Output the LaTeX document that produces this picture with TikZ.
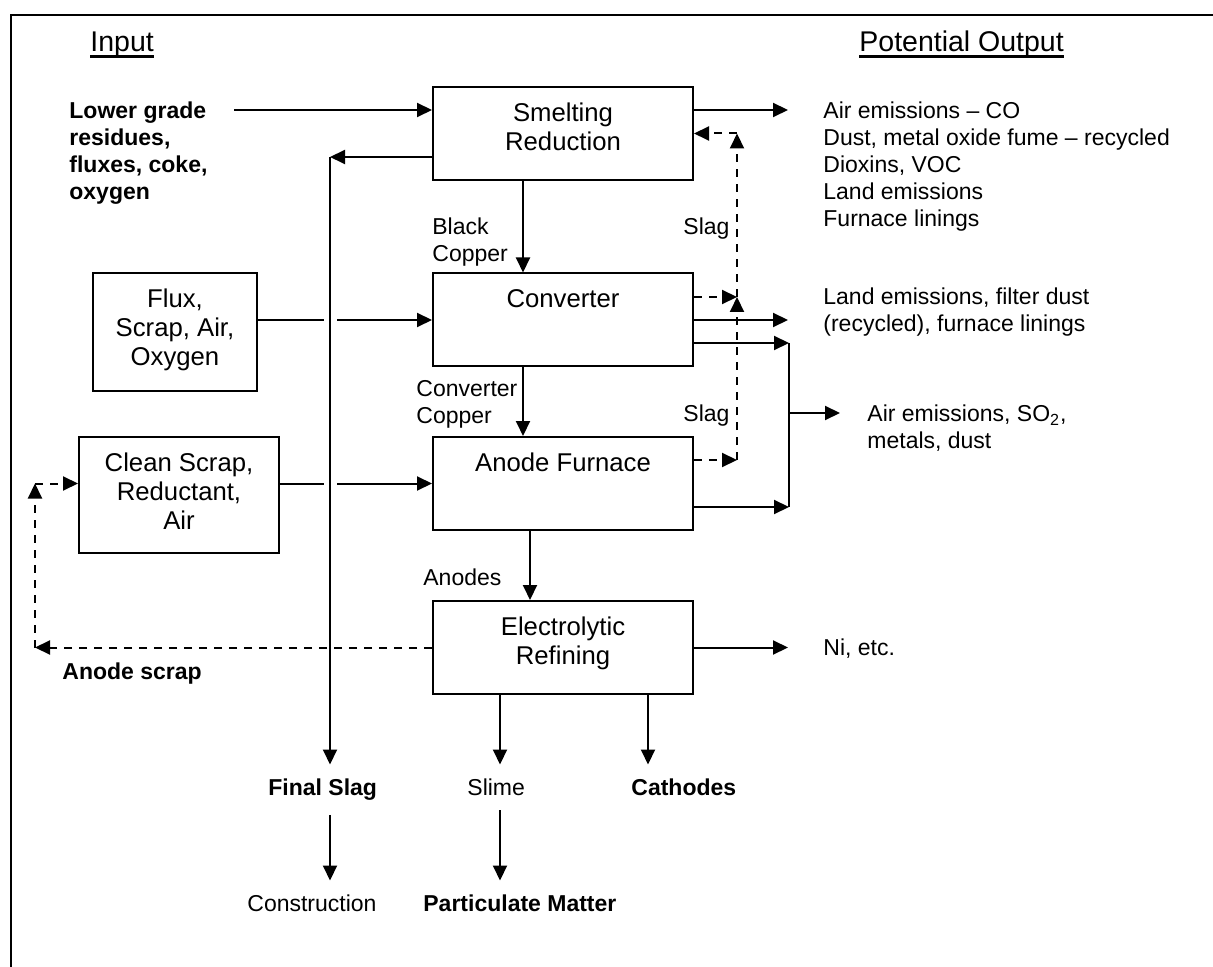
\documentclass[tikz,border=0pt]{standalone}
\usepackage{fontspec}
\setmainfont{Liberation Sans}
\usetikzlibrary{arrows.meta}

\tikzset{
	box/.style = {draw, line width = 1pt, inner sep = 0pt, minimum width = 130pt, minimum height = 46.5pt},
	boxtext/.style = {anchor = north, inner sep = 0pt, align = center, font = \fontsize{12.85}{14.5}\selectfont},
	lbl/.style = {anchor = north west, inner xsep = 0pt, inner ysep = 7pt, align = left, font = \fontsize{11.5}{13.5}\selectfont},
	boldlbl/.style = {lbl, font = \fontsize{11.5}{13.5}\selectfont\bfseries},
	heading/.style = {anchor = base west, inner sep = 0pt, font = \fontsize{14.25}{17}\selectfont},
	flow/.style = {line width = 1pt, -{Triangle[length = 7.5pt, width = 7pt]}},
	link/.style = {line width = 1pt},
	back/.style = {line width = 1pt, dash pattern = on 4pt off 3.5pt, -{Triangle[length = 7.5pt, width = 7pt]}}
}

\begin{document}
\begin{tikzpicture}[x = 0.5pt, y = -0.5pt]
	\def\slagX{330};
	\def\recX{737};
	\def\airX{789};
	\def\outX{788};
	\def\scrapX{35};

	\useasboundingbox (0,0) rectangle (1213,967);
	\draw [line width = 1.2pt] (1213,15) -- (11,15) -- (11,967);

	\begin{scope}
		\node [heading] (inhead) at (90,52) {Input};
		\node [heading] (outhead) at (859,52) {Potential Output};
		\draw [line width = 1.25pt] ([yshift = -2.25pt]inhead.base west) -- ([yshift = -2.25pt]inhead.base east);
		\draw [line width = 1.25pt] ([yshift = -2.25pt]outhead.base west) -- ([yshift = -2.25pt]outhead.base east);
	\end{scope}

	\begin{scope}
		\node [box] (smelt) at (563,133.5) {};
		\node [box] (conv) at (563,320) {};
		\node [box] (anode) at (563,483.5) {};
		\node [box] (elec) at (563,647.5) {};
		\node [box, minimum width = 82pt, minimum height = 59pt] (flux) at (175,332) {};
		\node [box, minimum width = 100pt, minimum height = 58pt] (clean) at (179,495) {};
		\node [boxtext] (smelt-t) at ([yshift = -8.25pt]smelt.north) {Smelting\\Reduction};
		\node [boxtext] (conv-t) at ([yshift = -8.25pt]conv.north) {Converter};
		\node [boxtext] (anode-t) at ([yshift = -8.25pt]anode.north) {Anode Furnace};
		\node [boxtext] (elec-t) at ([yshift = -8.25pt]elec.north) {Electrolytic\\Refining};
		\node [boxtext] (flux-t) at ([yshift = -8.25pt]flux.north) {Flux,\\Scrap, Air,\\Oxygen};
		\node [boxtext] (clean-t) at ([yshift = -8.25pt]clean.north) {Clean Scrap,\\Reductant,\\Air};
	\end{scope}

	\begin{scope}
		\node [boldlbl] (lower) at (69,87.5) {Lower grade\\residues,\\fluxes, coke,\\oxygen};
		\node [lbl] (black) at (432,203.5) {Black\\Copper};
		\node [lbl] (slag1) at (683,203.5) {Slag};
		\node [lbl] (convcu) at (416,366.5) {Converter\\Copper};
		\node [lbl] (slag2) at (683,390.5) {Slag};
		\node [lbl] (anodes) at (423,554.5) {Anodes};
		\node [boldlbl] (scrap) at (62,648.5) {Anode scrap};
		\node [boldlbl] (finslag) at (268,764.5) {Final Slag};
		\node [lbl] (slime) at (467,764.5) {Slime};
		\node [boldlbl] (cathodes) at (631,764.5) {Cathodes};
		\node [lbl] (constr) at (247,880.5) {Construction};
		\node [boldlbl] (partic) at (423,880.5) {Particulate Matter};
	\end{scope}

	\begin{scope}
		\node [lbl] (out1) at (823,87.5) {Air emissions -- CO\\Dust, metal oxide fume -- recycled\\Dioxins, VOC\\Land emissions\\Furnace linings};
		\node [lbl] (out2) at (823,273.5) {Land emissions, filter dust\\(recycled), furnace linings};
		\node [lbl] (out3) at (867,390.5) {Air emissions, SO\textsubscript{2},\\metals, dust};
		\node [lbl] (out4) at (823,624.5) {Ni, etc.};
	\end{scope}

	\begin{scope}
		\coordinate (feed) at (234,110);
		\draw [flow] (feed) -- (feed -| smelt.west);
		\coordinate (slagtop) at (\slagX,157);
		\draw [flow] (slagtop -| smelt.west) -- (slagtop);
		\draw [flow] (slagtop) -- (slagtop |- finslag.north);
		\draw [flow] (slagtop |- finslag.south) -- (slagtop |- constr.north);
		\coordinate (hop1) at (\slagX,320);
		\draw [link] (conv.west -| flux.east) -- ([xshift = -3.25pt]hop1);
		\draw [flow] ([xshift = 3.5pt]hop1) -- (conv.west);
		\coordinate (hop2) at (\slagX,483.5);
		\draw [link] (anode.west -| clean.east) -- ([xshift = -3.25pt]hop2);
		\draw [flow] ([xshift = 3.5pt]hop2) -- (anode.west);
	\end{scope}

	\begin{scope}
		\draw [flow] ([xshift = -20pt]smelt.south) -- ([xshift = -20pt]conv.north);
		\draw [flow] ([xshift = -20pt]conv.south) -- ([xshift = -20pt]anode.north);
		\draw [flow] ([xshift = -16.5pt]anode.south) -- ([xshift = -16.5pt]elec.north);
		\coordinate (slimex) at (500,0);
		\coordinate (cathx) at (648,0);
		\draw [flow] (slimex |- elec.south) -- (slimex |- slime.north);
		\draw [flow] (slimex |- slime.south) -- (slimex |- partic.north);
		\draw [flow] (cathx |- elec.south) -- (cathx |- cathodes.north);
	\end{scope}

	\begin{scope}
		\coordinate (rec1) at (\recX,460);
		\coordinate (rec2) at (\recX,297);
		\draw [back] (rec1 -| anode.east) -- (rec1);
		\draw [back] (rec2 -| conv.east) -- (rec2);
		\draw [back] (rec1) -- (rec2);
		\draw [back] (rec2) -- (rec2 |- smelt.east);
		\draw [back] (rec2 |- smelt.east) -- (smelt.east);
	\end{scope}

	\begin{scope}
		\coordinate (outtip) at (\outX,110);
		\draw [flow] (outtip -| smelt.east) -- (outtip);
		\draw [flow] (conv.east) -- (conv.east -| outtip);
		\coordinate (air1) at (\airX,343);
		\coordinate (air2) at (\airX,507);
		\coordinate (airmid) at (\airX,413);
		\coordinate (airend) at (840,413);
		\draw [flow] (air1 -| conv.east) -- (air1);
		\draw [flow] (air2 -| anode.east) -- (air2);
		\draw [link] (air1) -- (air2);
		\draw [flow] (airmid) -- (airend);
		\draw [flow] (elec.east) -- (elec.east -| outtip);
	\end{scope}

	\begin{scope}
		\coordinate (scrapcorner) at (\scrapX,647.5);
		\coordinate (scraptop) at (\scrapX,483.5);
		\draw [back] (elec.west) -- (scrapcorner);
		\draw [back] (scrapcorner) -- (scraptop);
		\draw [back] (scraptop) -- (scraptop -| clean.west);
	\end{scope}
\end{tikzpicture}
\end{document}
